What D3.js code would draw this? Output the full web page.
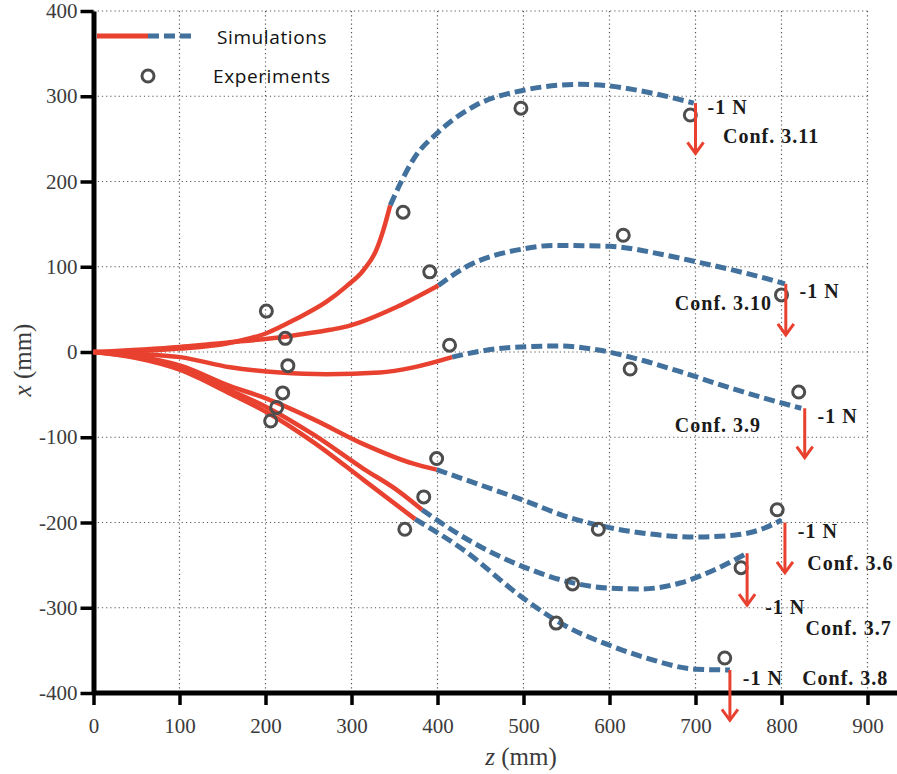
<!DOCTYPE html>
<html>
<head>
<meta charset="utf-8">
<script src="https://d3js.org/d3.v7.min.js"></script>
<style>
  body { margin: 0; background: #fff; }
  svg { display: block; }
</style>
</head>
<body>
<script>
// axis ticks
var zTicks = [0, 100, 200, 300, 400, 500, 600, 700, 800, 900];
var xTicks = [-400, -300, -200, -100, 0, 100, 200, 300, 400];

var confNames = ["3.11", "3.10", "3.9", "3.6", "3.7", "3.8"];

// simulation, solid part [z, x]
var simSolid = [
  [[0,0],[50,1],[100,4],[155,10],[201,22],[236,39],[271,59],[294,77],[314,96],[329,120],[337,143],[345,172]],
  [[0,0],[100,6],[155,11],[223,18],[275,26],[295,30],[353,53],[401,78]],
  [[0,0],[50,-2],[101,-6],[159,-18],[217,-24],[271,-26],[333,-24],[372,-18],[417,-6]],
  [[0,0],[50,-5],[101,-16],[159,-40],[202,-55],[256,-79],[314,-108],[372,-131],[399,-138]],
  [[0,0],[50,-6],[101,-19],[159,-45],[202,-65],[256,-97],[314,-137],[353,-162],[382,-185]],
  [[0,0],[50,-7],[101,-21],[159,-49],[202,-71],[256,-106],[314,-150],[374,-196]]
];
// simulation, dashed part [z, x]
var simDashed = [
  [[345,172],[357,198],[372,226],[401,258],[442,288],[500,307],[566,314],[600,312],[643,305],[698,292]],
  [[401,78],[430,98],[500,121],[535,125],[600,124],[663,114],[700,106],[744,96],[783,86],[804,80]],
  [[417,-6],[450,1],[496,6],[542,7],[589,2],[639,-10],[685,-24],[743,-43],[783,-55],[823,-66]],
  [[399,-138],[450,-156],[500,-174],[550,-193],[600,-206],[643,-213],[700,-217],[744,-215],[779,-207],[800,-197]],
  [[382,-185],[430,-217],[500,-252],[550,-269],[600,-277],[636,-278],[682,-271],[721,-256],[760,-236]],
  [[374,-196],[430,-232],[500,-289],[550,-322],[600,-344],[643,-359],[700,-372],[740,-373]]
];
// experiments [z, x]
var experiments = [
  [[201,48],[360,164],[497,286],[694,278]],
  [[223,16],[391,94],[616,137],[800,67]],
  [[226,-16],[414,8],[624,-20],[820,-47]],
  [[220,-48],[399,-125],[587,-208],[795,-185]],
  [[213,-65],[384,-170],[557,-272],[753,-253]],
  [[206,-81],[362,-208],[538,-318],[734,-359]]
];
// -1 N load arrows [z, xFrom, xTo]
var loads = [
  [700, 292, 233],
  [805, 80, 20],
  [827, -66, -124],
  [804, -200, -259],
  [760, -236, -297],
  [740, -373, -432]
];
// annotation anchors [z, x]
var forcePos = [[714,279],[821,63],[842,-83],[819,-218],[781,-307],[755,-391]];
var confPos = [[732,245],[676,49],[676,-94],[830,-256],[828,-332],[824,-391]];

var W = 897, H = 774;
var red = "#e8412f", blue = "#41719c", grey = "#4d4d4d";
var serif = "'Liberation Serif', 'DejaVu Serif', serif";

var svg = d3.select("body").append("svg")
  .attr("width", W)
  .attr("height", H);

var x = d3.scaleLinear().domain([0, 900]).range([93.5, 867.5]);
var y = d3.scaleLinear().domain([-400, 400]).range([693, 11]);

// grid
var grid = svg.append("g").attr("class", "grid");
grid.selectAll("line.v").data(zTicks.slice(1)).enter().append("line")
  .attr("x1", d => x(d)).attr("x2", d => x(d))
  .attr("y1", y(400)).attr("y2", y(-400))
  .attr("stroke", "#555").attr("stroke-width", 1.2)
  .attr("stroke-dasharray", "1.2,3");
grid.selectAll("line.h").data(xTicks.slice(1)).enter().append("line")
  .attr("x1", x(0)).attr("x2", x(900))
  .attr("y1", d => y(d)).attr("y2", d => y(d))
  .attr("stroke", "#555").attr("stroke-width", 1.2)
  .attr("stroke-dasharray", "1.2,3");

// axes
var yAxis = svg.append("g")
  .attr("transform", "translate(" + x(0) + ",0)")
  .call(d3.axisLeft(y).tickValues(xTicks).tickFormat(d => String(d))
    .tickSize(13).tickSizeOuter(0).tickPadding(3));
var xAxis = svg.append("g")
  .attr("transform", "translate(0," + y(-400) + ")")
  .call(d3.axisBottom(x).tickValues(zTicks).tickFormat(d => String(d))
    .tickSize(12).tickSizeOuter(0));

[yAxis, xAxis].forEach(function(a) {
  a.attr("font-family", serif).attr("font-size", 21);
  a.select(".domain").attr("stroke", "#000").attr("stroke-width", 5);
  a.selectAll(".tick line").attr("stroke", "#000").attr("stroke-width", 3.5);
  a.selectAll(".tick text").attr("fill", "#3b3b3b");
});
xAxis.selectAll(".tick text").attr("dy", null).attr("y", 40);
xAxis.select(".domain").attr("d", "M" + x(0) + ",0H" + W);

// axis titles
svg.append("text")
  .attr("transform", "translate(31,360) rotate(-90)")
  .attr("text-anchor", "middle")
  .attr("fill", "#3b3b3b")
  .attr("font-family", serif)
  .attr("font-size", 25)
  .html("<tspan font-style='italic'>x</tspan> (mm)");
svg.append("text")
  .attr("x", 521).attr("y", 765)
  .attr("text-anchor", "middle")
  .attr("fill", "#3b3b3b")
  .attr("font-family", serif)
  .attr("font-size", 25)
  .html("<tspan font-style='italic'>z</tspan> (mm)");

// simulations
var line = d3.line()
  .x(d => x(d[0])).y(d => y(d[1]))
  .curve(d3.curveMonotoneX);

svg.append("g").selectAll("path").data(simDashed).enter().append("path")
  .attr("d", line)
  .attr("fill", "none")
  .attr("stroke", blue).attr("stroke-width", 5)
  .attr("stroke-dasharray", "11,5");
svg.append("g").selectAll("path").data(simSolid).enter().append("path")
  .attr("d", line)
  .attr("fill", "none")
  .attr("stroke", red).attr("stroke-width", 4.5);

// experiments
var allExp = experiments.flat();
svg.append("g").selectAll("circle").data(allExp).enter().append("circle")
  .attr("cx", d => x(d[0])).attr("cy", d => y(d[1]))
  .attr("r", 6)
  .attr("fill", "none")
  .attr("stroke", grey).attr("stroke-width", 3);

// load arrows
var arrows = svg.append("g").attr("class", "loads");
loads.forEach(function(l) {
  var ax = x(l[0]), y0 = y(l[1]), y1 = y(l[2]);
  arrows.append("line")
    .attr("x1", ax).attr("x2", ax).attr("y1", y0).attr("y2", y1)
    .attr("stroke", red).attr("stroke-width", 3);
  arrows.append("path")
    .attr("d", "M" + (ax - 8) + "," + (y1 - 11) + "L" + ax + "," + y1 + "L" + (ax + 8) + "," + (y1 - 11))
    .attr("fill", "none")
    .attr("stroke", red).attr("stroke-width", 3);
});

// annotations
var notes = svg.append("g")
  .attr("font-family", serif)
  .attr("font-weight", "bold")
  .attr("font-size", 20)
  .style("letter-spacing", "1px")
  .attr("fill", "#1a1a1a");
forcePos.forEach(function(p) {
  notes.append("text").attr("x", x(p[0])).attr("y", y(p[1])).text("-1 N");
});
confPos.forEach(function(p, i) {
  notes.append("text").attr("x", x(p[0])).attr("y", y(p[1])).text("Conf. " + confNames[i]);
});

// legend
var lg = svg.append("g");
lg.append("line").attr("x1", 97).attr("x2", 148).attr("y1", 36).attr("y2", 36)
  .attr("stroke", red).attr("stroke-width", 5);
lg.append("line").attr("x1", 148).attr("x2", 195).attr("y1", 36).attr("y2", 36)
  .attr("stroke", blue).attr("stroke-width", 5).attr("stroke-dasharray", "11,5");
lg.append("circle").attr("cx", 148).attr("cy", 76).attr("r", 6)
  .attr("fill", "none").attr("stroke", grey).attr("stroke-width", 3);
lg.selectAll("text").data([["Simulations", 217, 44], ["Experiments", 213, 83]]).enter()
  .append("text")
  .attr("x", d => d[1]).attr("y", d => d[2])
  .attr("font-family", "'Open Sans', 'Liberation Sans', sans-serif")
  .attr("font-size", 19)
  .style("letter-spacing", "0.6px")
  .attr("fill", "#111")
  .text(d => d[0]);
</script>
</body>
</html>
